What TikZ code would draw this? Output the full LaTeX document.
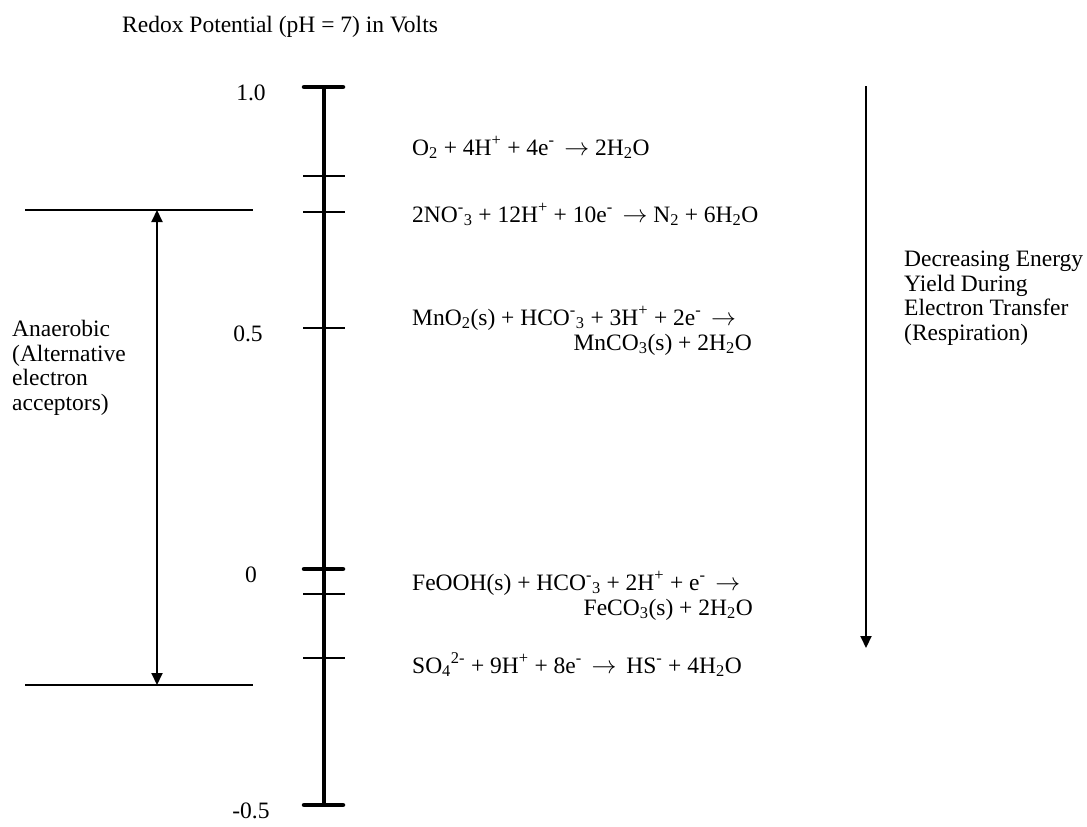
\documentclass[tikz,border=0pt]{standalone}
\usepackage{fontspec}
\setmainfont{Liberation Serif}
\usetikzlibrary{arrows.meta, positioning}

\newcommand{\chlo}[1]{\textsubscript{#1}}
\newcommand{\chhi}[1]{\textsuperscript{#1}}

\begin{document}
\begin{tikzpicture}[
  x=1pt, y=-1pt,
  txt/.style={font=\fontsize{23.5}{24.5}\selectfont, inner sep=0pt,
              anchor=base west, align=left},
  val/.style={font=\fontsize{23.5}{24.5}\selectfont, inner sep=0pt,
              anchor=base},
  scalebar/.style={line width=4.5pt},
  tickmark/.style={line width=2pt},
  endmark/.style={line width=4.5pt, line cap=round},
  bound/.style={line width=2pt},
  arr/.style={-{Triangle[length=12pt, width=11pt]}, line width=2pt},
  dblarr/.style={{Triangle[length=12pt, width=11pt]}-{Triangle[length=12pt, width=11pt]},
                 line width=2pt},
]
  \useasboundingbox (0,0) rectangle (1087,827);

  % Potential scale
  \coordinate (top) at (324,87);
  \coordinate (bot) at (324,805);
  \draw[scalebar] (top) -- (bot);
  \foreach \y in {87,569,805}
    \draw[endmark] (304,\y) -- (343,\y);
  \foreach \y in {176,212,328,594,658}
    \draw[tickmark] (303,\y) -- (345,\y);

  \node[txt] (title) at (122,32) {Redox Potential (pH = 7) in Volts};

  % Scale values
  \node[val] (v10) at (251,100) {1.0};
  \node[val] (v05) at (248,341) {0.5};
  \node[val] (v00) at (251,582) {0};
  \node[val] (vm05) at (251,818) {-0.5};

  % Half reactions
  \node[txt] (oxy) at (412,155)
    {O\chlo{2} + 4H\chhi{+} + 4e\chhi{-} \,$\rightarrow$ 2H\chlo{2}O};
  \node[txt] (nit) at (412,222)
    {2NO\chhi{-}\chlo{3} + 12H\chhi{+} + 10e\chhi{-} \,$\rightarrow$ N\chlo{2} + 6H\chlo{2}O};
  \node[txt] (man) at (412,325)
    {MnO\chlo{2}(s) + HCO\chhi{-}\chlo{3} + 3H\chhi{+} + 2e\chhi{-} \,$\rightarrow$};
  \node[txt, anchor=base east] (manb) at (752,350) {MnCO\chlo{3}(s) + 2H\chlo{2}O};
  \node[txt] (iron) at (412,590)
    {FeOOH(s) + HCO\chhi{-}\chlo{3} + 2H\chhi{+} + e\chhi{-} \,$\rightarrow$};
  \node[txt, anchor=base east] (ironb) at (753,615) {FeCO\chlo{3}(s) + 2H\chlo{2}O};
  \node[txt] (sulf) at (412,673)
    {SO\chlo{4}\chhi{2-} + 9H\chhi{+} + 8e\chhi{-} \,$\rightarrow$\, HS\chhi{-} + 4H\chlo{2}O};

  % Anaerobic range
  \coordinate (anTop) at (157,210);
  \coordinate (anBot) at (157,685);
  \draw[bound] (25,210) -- (253,210);
  \draw[bound] (25,685) -- (253,685);
  \draw[dblarr] (anTop) -- (anBot);
  \node[txt] (anaer) at (12,410)
    {Anaerobic\\(Alternative\\electron\\acceptors)};

  % Energy yield
  \coordinate (enTop) at (866,86);
  \coordinate (enBot) at (866,648);
  \draw[arr] (enTop) -- (enBot);
  \node[txt] (yield) at (904,340)
    {Decreasing Energy\\Yield During\\Electron Transfer\\(Respiration)};
\end{tikzpicture}
\end{document}
